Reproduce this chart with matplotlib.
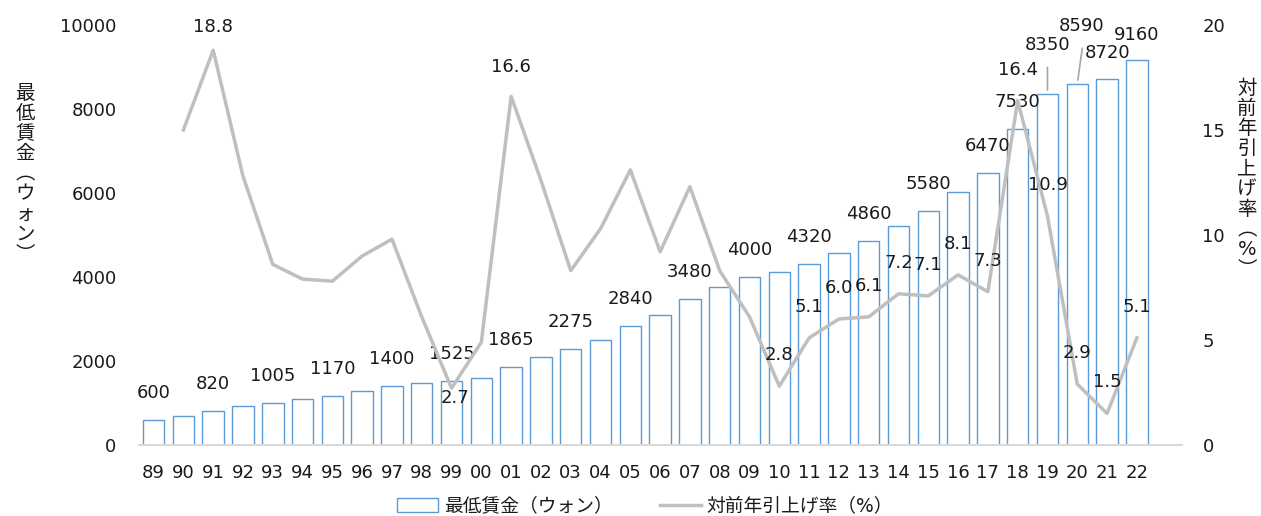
import matplotlib
matplotlib.use('Agg')
import matplotlib.pyplot as plt
from matplotlib.patches import Patch
from matplotlib.lines import Line2D

plt.rcParams['font.family'] = ['DejaVu Sans', 'Noto Sans CJK JP']

# データ（年、最低賃金、対前年引上げ率）
years = ['89', '90', '91', '92', '93', '94', '95', '96', '97', '98', '99', '00',
         '01', '02', '03', '04', '05', '06', '07', '08', '09', '10', '11', '12',
         '13', '14', '15', '16', '17', '18', '19', '20', '21', '22']
wage = [600, 690, 820, 925, 1005, 1085, 1170, 1275, 1400, 1485, 1525, 1600,
        1865, 2100, 2275, 2510, 2840, 3100, 3480, 3770, 4000, 4110, 4320, 4580,
        4860, 5210, 5580, 6030, 6470, 7530, 8350, 8590, 8720, 9160]
rate = [None, 15.0, 18.8, 12.8, 8.6, 7.9, 7.8, 9.0, 9.8, 6.1, 2.7, 4.9,
        16.6, 12.6, 8.3, 10.3, 13.1, 9.2, 12.3, 8.3, 6.1, 2.8, 5.1, 6.0,
        6.1, 7.2, 7.1, 8.1, 7.3, 16.4, 10.9, 2.9, 1.5, 5.1]

# ラベルを付ける年
wage_labeled = ['89', '91', '93', '95', '97', '99', '01', '03', '05', '07', '09',
                '11', '13', '15', '17', '18', '19', '20', '21', '22']
rate_labeled = ['91', '99', '01', '10', '11', '12', '13', '14', '15', '16', '17',
                '18', '19', '20', '21', '22']

# ラベル位置の調整（ピクセル）
wage_offset = {'19': (0, 49), '20': (4, 58), '21': (0, 26), '22': (0, 25)}
rate_offset = {'91': (0, 23), '99': (3, -10), '01': (0, 29)}
# 引き出し線: (上端のx, 上端のy, 下側の隙間)
leaders = {'19': (0, 27, 3), '20': (5, 36, 3)}

txt = '#1a1a1a'
fs = 13

fig = plt.figure(figsize=(12.61, 5.16), dpi=100)
ax1 = fig.add_axes([0.110, 0.1376, 0.827, 0.814])
ax2 = ax1.twinx()

x = list(range(len(years)))
ax1.bar(x, wage, width=0.72, facecolor='white', edgecolor='#5b9bd5', linewidth=1.0, zorder=2)
ax2.plot([i for i, r in zip(x, rate) if r is not None], [r for r in rate if r is not None],
         color='#bfbfbf', linewidth=2.5, zorder=3)

ax1.set_xlim(-0.5, len(years) + 0.5)
ax1.set_ylim(0, 10000)
ax2.set_ylim(0, 20)
ax1.set_yticks(range(0, 10001, 2000))
ax2.set_yticks(range(0, 21, 5))
ax1.set_xticks(x)
ax1.set_xticklabels(years)

for a in (ax1, ax2):
    for s in a.spines.values():
        s.set_visible(False)
    a.tick_params(length=0, labelsize=fs, colors=txt)
ax1.spines['bottom'].set_visible(True)
ax1.spines['bottom'].set_color('#d9d9d9')
ax1.spines['bottom'].set_linewidth(1.5)
ax1.tick_params(axis='x', pad=14)
ax1.tick_params(axis='y', pad=16)
ax2.tick_params(axis='y', pad=15)

for i, (y, w) in enumerate(zip(years, wage)):
    if y in wage_labeled:
        dx, dy = wage_offset.get(y, (0, 27))
        ax1.annotate(str(w), (i, w), xytext=(dx, dy), textcoords='offset pixels',
                     ha='center', va='center', fontsize=fs, color=txt, zorder=5)
    if y in leaders:
        tx, ty, gap = leaders[y]
        ax1.annotate('', (i, w), xytext=(tx, ty), textcoords='offset pixels',
                     arrowprops=dict(arrowstyle='-', color='#a6a6a6', lw=1.2,
                                     shrinkA=0, shrinkB=gap))

for i, (y, r) in enumerate(zip(years, rate)):
    if y in rate_labeled:
        dx, dy = rate_offset.get(y, (0, 31))
        ax2.annotate(f'{r:.1f}', (i, r), xytext=(dx, dy), textcoords='offset pixels',
                     ha='center', va='center', fontsize=fs, color=txt, zorder=5)

# 縦書きの軸ラベル
fig.text(25 / 1261, 1 - 174 / 516, '\n'.join('最低賃金︵ウォン︶'), ha='center', va='center',
         fontsize=14, color=txt, linespacing=1.08)
fig.text(1247 / 1261, 1 - 179 / 516, '\n'.join('対前年引上げ率︵%︶'), ha='center', va='center',
         fontsize=14, color=txt, linespacing=1.08)

handles = [Patch(facecolor='white', edgecolor='#5b9bd5', linewidth=1.0),
           Line2D([], [], color='#bfbfbf', linewidth=2.5)]
fig.legend(handles, ['最低賃金（ウォン）', '対前年引上げ率（%）'], loc='center',
           bbox_to_anchor=(0.5115, 1 - 506 / 516), ncol=2, frameon=False, fontsize=13.5,
           handlelength=2.2, handleheight=0.8, handletextpad=0.3, columnspacing=2.5,
           labelcolor=txt)

fig.savefig('out.png', dpi=100)
